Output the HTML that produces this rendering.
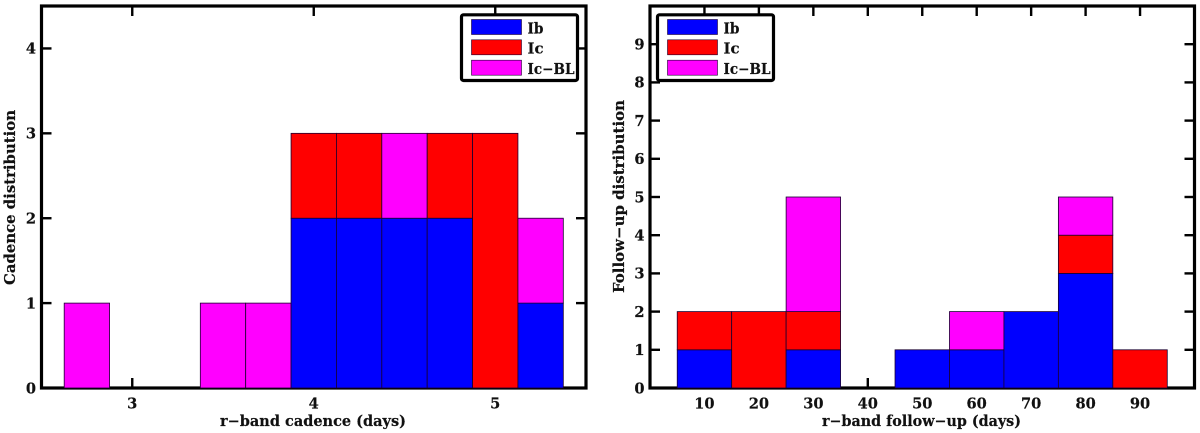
<!DOCTYPE html>
<html lang="en">
<head>
<meta charset="utf-8">
<title>Cadence and follow-up distributions</title>
<style>
html,body{margin:0;padding:0;background:#fff;width:1200px;height:433px;overflow:hidden}
svg{display:block}
text{font-family:"DejaVu Serif","Liberation Serif",serif;font-weight:bold;fill:#111;stroke:#111;stroke-width:0.2}
</style>
</head>
<body>
<svg id="chart" xmlns="http://www.w3.org/2000/svg" width="1200" height="433" viewBox="0 0 1200 433"></svg>
<script>
const seriesNames = ['Ib', 'Ic', 'Ic\u2212BL'];
const seriesColors = ['#0000ff', '#ff0000', '#ff00ff'];

const cadenceBins = [2.75, 3.5, 3.75, 4, 4.25, 4.5, 4.75, 5, 5.25];
const cadenceIb = [0, 0, 0, 2, 2, 2, 2, 0, 1];
const cadenceIc = [0, 0, 0, 1, 1, 0, 1, 3, 0];
const cadenceIcBL = [1, 1, 1, 0, 0, 1, 0, 0, 1];
const cadenceXTicks = [3, 4, 5];
const cadenceYTicks = [0, 1, 2, 3, 4];

const followBins = [10, 20, 30, 40, 50, 60, 70, 80, 90];
const followIb = [1, 0, 1, 0, 1, 1, 2, 3, 0];
const followIc = [1, 2, 1, 0, 0, 0, 0, 1, 1];
const followIcBL = [0, 0, 3, 0, 0, 1, 0, 1, 0];
const followXTicks = [10, 20, 30, 40, 50, 60, 70, 80, 90];
const followYTicks = [0, 1, 2, 3, 4, 5, 6, 7, 8, 9];

const svg = document.getElementById('chart');
const NS = 'http://www.w3.org/2000/svg';

function mk(tag, attrs, parent, text) {
  const el = document.createElementNS(NS, tag);
  for (const k in attrs) el.setAttribute(k, attrs[k]);
  if (text !== undefined) el.textContent = text;
  parent.appendChild(el);
  return el;
}

function drawPanel(cfg) {
  const g = mk('g', {}, svg);
  
  
  const sx = v => cfg.left + (v - cfg.xMin) / (cfg.xMax - cfg.xMin) * (cfg.right - cfg.left);
  const sy = v => cfg.bottom - (v - cfg.yMin) / (cfg.yMax - cfg.yMin) * (cfg.bottom - cfg.top);

  const frame = mk('rect', {x: cfg.left, y: cfg.top, width: cfg.right - cfg.left, height: cfg.bottom - cfg.top, fill: 'none', stroke: '#000', 'stroke-width': 3.2}, g);
  
  

  cfg.xTicks.forEach(t => {
    const x = sx(t);
    const a = mk('line', {x1: x, x2: x, y1: cfg.bottom, y2: cfg.bottom - 10, stroke: '#000', 'stroke-width': 2.4}, g);
    
    
    const b = mk('line', {x1: x, x2: x, y1: cfg.top, y2: cfg.top + 10, stroke: '#000', 'stroke-width': 2.4}, g);
    
    
    const l = mk('text', {x: x, y: cfg.bottom + 20.5, 'text-anchor': 'middle', 'font-size': 14.6}, g, String(t));
    
    
  });

  cfg.yTicks.forEach(t => {
    const y = sy(t);
    if (t !== cfg.yMin) {
      const a = mk('line', {x1: cfg.left, x2: cfg.left + 10, y1: y, y2: y, stroke: '#000', 'stroke-width': 2.4}, g);
      
      
      const b = mk('line', {x1: cfg.right, x2: cfg.right - 10, y1: y, y2: y, stroke: '#000', 'stroke-width': 2.4}, g);
      
      
    }
    const l = mk('text', {x: cfg.left - 5.5, y: y + 5.3, 'text-anchor': 'end', 'font-size': 14.6}, g, String(t));
    
    
  });

  cfg.bins.forEach((c, i) => {
    let base = 0;
    cfg.series.forEach((vals, s) => {
      const v = vals[i];
      if (!v) return;
      const x0 = sx(c - cfg.binWidth / 2);
      const x1 = sx(c + cfg.binWidth / 2);
      const r = mk('rect', {x: x0, y: sy(base + v), width: x1 - x0, height: sy(base) - sy(base + v), fill: seriesColors[s], stroke: '#1a0030', 'stroke-width': 0.8}, g);
      
      
      base += v;
    });
  });

  const xt = mk('text', {x: cfg.xLabelX, y: 426, 'text-anchor': 'middle', 'font-size': 14.5, textLength: cfg.xLabelLen, lengthAdjust: 'spacingAndGlyphs'}, g, cfg.xLabel);
  
  

  const yt = mk('text', {x: 0, y: 0, transform: 'translate(' + cfg.yLabelX + ',' + cfg.yLabelY + ') rotate(-90)', 'text-anchor': 'middle', 'font-size': 14.5, textLength: cfg.yLabelLen, lengthAdjust: 'spacingAndGlyphs'}, g, cfg.yLabel);
  
  

  const lg = mk('g', {}, g);
  
  
  mk('rect', {x: cfg.legendX, y: 14.8, width: 116, height: 65.7, fill: '#fff', stroke: '#000', 'stroke-width': 3.2, rx: 2}, lg);
  const rowTops = [19.5, 39.8, 60.2];
  const rowBase = [33.3, 53.5, 74];
  const labelLens = [16, 16, 47];
  seriesNames.forEach((n, s) => {
    const entry = mk('g', {}, lg);
    
    
    mk('rect', {x: cfg.legendX + 10, y: rowTops[s], width: 50, height: 15, fill: seriesColors[s], stroke: '#1a0030', 'stroke-width': 0.6}, entry);
    mk('text', {x: cfg.legendX + 66, y: rowBase[s], 'font-size': 14.5, textLength: labelLens[s], lengthAdjust: 'spacingAndGlyphs'}, entry, n);
  });
}

drawPanel({
  name: 'cadence-panel',
  left: 41.5, right: 586, top: 6, bottom: 388,
  xMin: 2.5, xMax: 5.5, yMin: 0, yMax: 4.5,
  bins: cadenceBins, binWidth: 0.25,
  series: [cadenceIb, cadenceIc, cadenceIcBL],
  xTicks: cadenceXTicks, yTicks: cadenceYTicks,
  xLabel: 'r\u2212band cadence (days)', xLabelX: 313, xLabelLen: 186,
  yLabel: 'Cadence distribution', yLabelX: 15, yLabelY: 197.5, yLabelLen: 175,
  legendX: 461.5
});

drawPanel({
  name: 'follow-up-panel',
  left: 650, right: 1194.5, top: 6, bottom: 388,
  xMin: 0, xMax: 100, yMin: 0, yMax: 10,
  bins: followBins, binWidth: 10,
  series: [followIb, followIc, followIcBL],
  xTicks: followXTicks, yTicks: followYTicks,
  xLabel: 'r\u2212band follow\u2212up (days)', xLabelX: 921.5, xLabelLen: 199,
  yLabel: 'Follow\u2212up distribution', yLabelX: 624, yLabelY: 196.5, yLabelLen: 193,
  legendX: 657.5
});
</script>
</body>
</html>
